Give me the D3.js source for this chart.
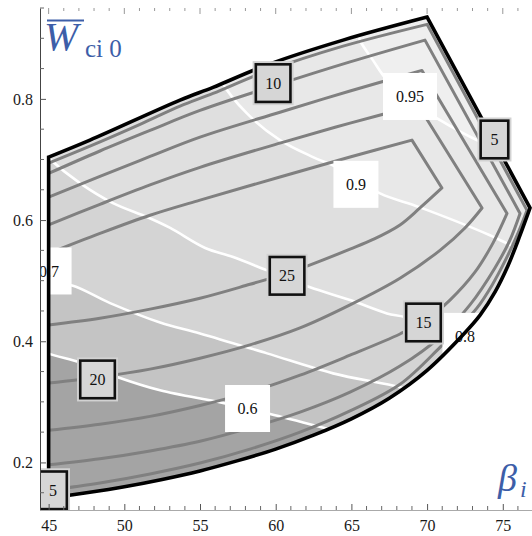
<!DOCTYPE html>
<html><head><meta charset="utf-8">
<script src="https://cdn.jsdelivr.net/npm/d3@7"></script>
<style>
html,body{margin:0;padding:0;background:#fff;}
svg{display:block;}
svg text{font-family:"Liberation Serif","Times New Roman",serif;}
</style></head><body>
<svg id="chart" width="532" height="536"></svg>
<script>
// ---------------- data (β_i , W̄ci0) ----------------
const xTicks = [45, 50, 55, 60, 65, 70, 75];
const yTicks = [0.2, 0.4, 0.6, 0.8];
const bandLevels = [0.6, 0.7, 0.8, 0.9, 0.95];
const bandColors = ["#a4a4a4", "#c4c4c4", "#d4d4d4", "#dfdfdf", "#e8e8e8", "#efefef"];

// region boundary
const boundaryTop   = [[45,0.704],[47.73,0.732],[53.68,0.798],[55.86,0.819],[59.43,0.856],[64.45,0.897],[70.0,0.935]];
const boundaryRight = [[70.0,0.935],[76.8,0.62]];
const boundaryLower = [[76.8,0.62],[76.14,0.575],[75.35,0.525],[74.48,0.481],[73.50,0.443],[72.5,0.414],[70.0,0.352],[67.5,0.306],[65.0,0.272],[62.5,0.245],[60.0,0.222],[57.5,0.203],[55.0,0.186],[52.5,0.172],[50.0,0.160],[47.5,0.150],[45.0,0.141]];

// white contour lines (shading levels)
const white06  = [[44.5,0.388],[45,0.380],[47.07,0.365],[49.52,0.341],[52.36,0.319],[56.52,0.298],[59.63,0.280],[64.25,0.250],[65.5,0.242]];
const white07  = [[44.5,0.50],[45,0.496],[46.55,0.492],[49.06,0.463],[52.36,0.431],[55,0.413],[59.43,0.380],[63.79,0.347],[68.21,0.324],[70,0.31]];
const white08  = [[44.6,0.712],[45,0.702],[47.07,0.661],[49.25,0.628],[51.5,0.605],[53.03,0.587],[55.34,0.554],[57.19,0.539],[59.43,0.517],[62.27,0.489],[64.91,0.468],[67.35,0.446],[68.54,0.440],[72.3,0.408],[74,0.39]];
const white09  = [[56.0,0.86],[56.52,0.825],[58.1,0.776],[60.28,0.732],[62.46,0.704],[64.05,0.687],[66.89,0.644],[69.53,0.621],[74.15,0.575],[76.0,0.553],[77.5,0.54]];
const white095 = [[65.2,0.93],[65.56,0.897],[66.42,0.864],[67.35,0.831],[68.87,0.798],[70.66,0.768],[73.63,0.728],[76.5,0.70]];
const whiteLines = [white06, white07, white08, white09, white095];

// gray contour lines (levels 5..25): upper branch, then lower branch (from tip back to left edge)
const c5Upper  = [[45,0.694],[47.73,0.722],[51.04,0.758],[53.68,0.788],[55.86,0.809],[59.43,0.846],[64.45,0.887],[70.0,0.923]];
const c5Lower  = [[76.6,0.616],[76.0,0.578],[75.2,0.535],[74.3,0.493],[73.3,0.455],[72.2,0.425],[70.85,0.390],[68.21,0.329],[64.91,0.285],[61.61,0.250],[58.30,0.222],[55.0,0.199],[51.70,0.181],[48.39,0.166],[45,0.154]];
const c10Upper = [[45,0.677],[48.39,0.714],[51.70,0.748],[55,0.781],[59.82,0.821],[64.91,0.861],[69.86,0.897]];
const c10Lower = [[76.14,0.611],[75.47,0.567],[74.48,0.521],[72.83,0.460],[70.85,0.407],[68.21,0.359],[64.91,0.316],[61.61,0.283],[58.30,0.257],[55,0.235],[51.70,0.219],[48.39,0.206],[45,0.196]];
const c15Upper = [[45,0.638],[48.39,0.672],[51.70,0.705],[55,0.737],[60.28,0.778],[64.91,0.813],[69.66,0.847]];
const c15Lower = [[75.28,0.611],[74.35,0.562],[73.16,0.514],[71.51,0.468],[69.80,0.433],[68.21,0.412],[64.91,0.377],[61.61,0.344],[58.30,0.316],[55,0.294],[51.70,0.276],[48.39,0.263],[45,0.253]];
const c20Upper = [[45,0.592],[48.39,0.626],[51.70,0.658],[55,0.687],[60.28,0.727],[64.91,0.760],[69.40,0.790]];
const c20Lower = [[73.63,0.620],[72.50,0.587],[70.85,0.550],[68.21,0.504],[64.91,0.460],[61.61,0.422],[58.30,0.394],[55,0.372],[51.70,0.354],[48.39,0.341],[45,0.331]];
const c25Upper = [[45,0.545],[48.39,0.578],[51.70,0.608],[55,0.633],[60.28,0.671],[64.91,0.704],[69.0,0.732]];
const c25Lower = [[70.98,0.653],[69.53,0.620],[68.21,0.592],[66.43,0.568],[64.91,0.552],[62.07,0.524],[60.75,0.512],[58.30,0.494],[55,0.471],[51.70,0.453],[48.39,0.438],[45,0.427]];
const grayContours = [
  {level:5,  upper:c5Upper,  lower:c5Lower},
  {level:10, upper:c10Upper, lower:c10Lower},
  {level:15, upper:c15Upper, lower:c15Lower},
  {level:20, upper:c20Upper, lower:c20Lower},
  {level:25, upper:c25Upper, lower:c25Lower}
];

// contour labels
const grayLabelText  = ["5", "20", "10", "25", "15", "5"];
const grayLabelBeta  = [45.29, 48.23, 59.83, 60.75, 69.76, 74.45];
const grayLabelW     = [0.154, 0.337, 0.826, 0.508, 0.431, 0.733];
const whiteLabelText = ["0.6", "0.7", "0.8", "0.9", "0.95"];
const whiteLabelBeta = [58.14, 45.03, 72.50, 65.30, 68.87];
const whiteLabelW    = [0.289, 0.516, 0.408, 0.659, 0.804];

// ---------------- drawing ----------------
const svg = d3.select("#chart");
const SERIF = "\"Liberation Serif\",\"Times New Roman\",serif";
const x = d3.scaleLinear().domain([44.43, 76.93]).range([40, 532]);
const y = d3.scaleLinear().domain([0.1215, 0.95]).range([510, 8]);

const defs = svg.append("defs");
defs.append("clipPath").attr("id", "plotClip")
  .append("rect").attr("x", 40).attr("y", 0).attr("width", 492).attr("height", 510);

const curve = d3.curveCatmullRom.alpha(0.5);
const lineC = d3.line().x(d => x(d[0])).y(d => y(d[1])).curve(curve);
const lineL = d3.line().x(d => x(d[0])).y(d => y(d[1]));
const joinPaths = parts => parts.map((p, i) => i === 0 ? p : p.replace(/^M/, "L")).join("");

const boundaryPath = joinPaths([lineC(boundaryTop), lineL(boundaryRight), lineC(boundaryLower)]) + "Z";
defs.append("clipPath").attr("id", "regionClip").append("path").attr("d", boundaryPath);

const region = svg.append("g").attr("clip-path", "url(#regionClip)");
region.append("path").attr("d", boundaryPath).attr("fill", bandColors[0]);

const farRight = x.domain()[1] + 5, farTop = y.domain()[1] + 0.2;
whiteLines.forEach((pts, i) => {
  const first = pts[0], last = pts[pts.length - 1];
  const extra = [[farRight, last[1]], [farRight, farTop], [first[0], farTop]];
  const d = lineC(pts) + extra.map(p => "L" + x(p[0]) + "," + y(p[1])).join("") + "Z";
  region.append("path").attr("d", d).attr("fill", bandColors[i + 1]);
});

whiteLines.forEach(pts => {
  region.append("path").attr("d", lineC(pts)).attr("fill", "none")
    .attr("stroke", "#ffffff").attr("stroke-width", 2.6);
});

grayContours.forEach(c => {
  const d = joinPaths([lineC(c.upper), lineL([c.upper[c.upper.length - 1], c.lower[0]]), lineC(c.lower)]);
  region.append("path").attr("d", d).attr("fill", "none")
    .attr("stroke", "#808080").attr("stroke-width", 3).attr("stroke-linejoin", "round");
});

// white level labels
const wl = svg.append("g").attr("clip-path", "url(#plotClip)");
whiteLabelText.forEach((t, i) => {
  const cx = x(whiteLabelBeta[i]), cy = y(whiteLabelW[i]);
  const w = t.length > 3 ? 54 : 45, h = 47;
  wl.append("rect").attr("x", cx - w / 2).attr("y", cy - h / 2).attr("width", w).attr("height", h).attr("fill", "#fff");
  wl.append("text").attr("x", cx).attr("y", cy).attr("text-anchor", "middle").attr("dy", "0.35em")
    .style("font-family", SERIF).attr("font-size", 16).attr("fill", "#111").text(t);
});

// boundary
svg.append("path").attr("d", boundaryPath).attr("fill", "none")
  .attr("stroke", "#000").attr("stroke-width", 3.6).attr("stroke-linejoin", "miter");

// gray level labels
const gl = svg.append("g").attr("clip-path", "url(#plotClip)");
grayLabelText.forEach((t, i) => {
  const cx = x(grayLabelBeta[i]), cy = y(grayLabelW[i]);
  const w = t.length > 1 ? 37 : 30, h = 40;
  gl.append("rect").attr("x", cx - w / 2 - 2).attr("y", cy - h / 2 - 2).attr("width", w + 4).attr("height", h + 4)
    .attr("fill", "#d2d2d2");
  gl.append("rect").attr("x", cx - w / 2 + 1.2).attr("y", cy - h / 2 + 1.2).attr("width", w - 2.4).attr("height", h - 2.4)
    .attr("fill", "#d6d6d6").attr("stroke", "#111").attr("stroke-width", 2.6);
  gl.append("text").attr("x", cx).attr("y", cy).attr("text-anchor", "middle").attr("dy", "0.35em")
    .style("font-family", SERIF).attr("font-size", 16).attr("fill", "#111").text(t);
});

// axes
const yAxis = svg.append("g").attr("transform", "translate(40,0)")
  .call(d3.axisLeft(y).tickValues(yTicks).tickFormat(d3.format(".1f")).tickSize(-6).tickSizeOuter(0).tickPadding(7));
const xAxis = svg.append("g").attr("transform", "translate(0,510)")
  .call(d3.axisBottom(x).tickValues(xTicks).tickFormat(d3.format("d")).tickSize(-6).tickSizeOuter(0).tickPadding(10));
[yAxis, xAxis].forEach(g => {
  g.attr("font-family", null).attr("font-size", 16);
  g.selectAll("text").style("font-family", SERIF).attr("font-size", 16).attr("fill", "#1a1a1a");
  g.selectAll(".tick line").attr("stroke", "#555");
});
yAxis.select(".domain").attr("stroke", "#444");
xAxis.select(".domain").attr("stroke", "#aaa");

const yMinor = d3.range(0.15, 0.951, 0.05).filter(v => !yTicks.some(t => Math.abs(t - v) < 1e-6));
svg.append("g").selectAll("line").data(yMinor).join("line")
  .attr("x1", 40).attr("x2", 44).attr("y1", d => y(d)).attr("y2", d => y(d)).attr("stroke", "#666");
const xMinor = d3.range(45, 77, 1).filter(v => v % 5 !== 0);
svg.append("g").selectAll("line").data(xMinor).join("line")
  .attr("x1", d => x(d)).attr("x2", d => x(d)).attr("y1", 510).attr("y2", 506).attr("stroke", "#666");
// top frame ticks
svg.append("g").selectAll("line").data(xMinor.concat(xTicks)).join("line")
  .attr("x1", d => x(d)).attr("x2", d => x(d)).attr("y1", 8)
  .attr("y2", d => xTicks.includes(d) ? 14 : 11).attr("stroke", "#999");

// axis titles
const blue = "#3d5ea8";
svg.append("text").attr("x", 44).attr("y", 50).style("font-family", SERIF).attr("font-style", "italic")
  .attr("font-size", 41).attr("fill", blue).text("W");
svg.append("line").attr("x1", 47).attr("x2", 84).attr("y1", 20.5).attr("y2", 20.5).attr("stroke", blue).attr("stroke-width", 2);
svg.append("text").attr("x", 85).attr("y", 57).style("font-family", SERIF).attr("font-size", 25).attr("fill", blue).text("ci 0");
svg.append("text").attr("x", 498).attr("y", 491).style("font-family", SERIF).attr("font-style", "italic")
  .attr("font-size", 38).attr("fill", blue).text("β");
svg.append("text").attr("x", 520).attr("y", 497).style("font-family", SERIF).attr("font-style", "italic")
  .attr("font-size", 24).attr("fill", blue).text("i");
</script>
</body></html>
